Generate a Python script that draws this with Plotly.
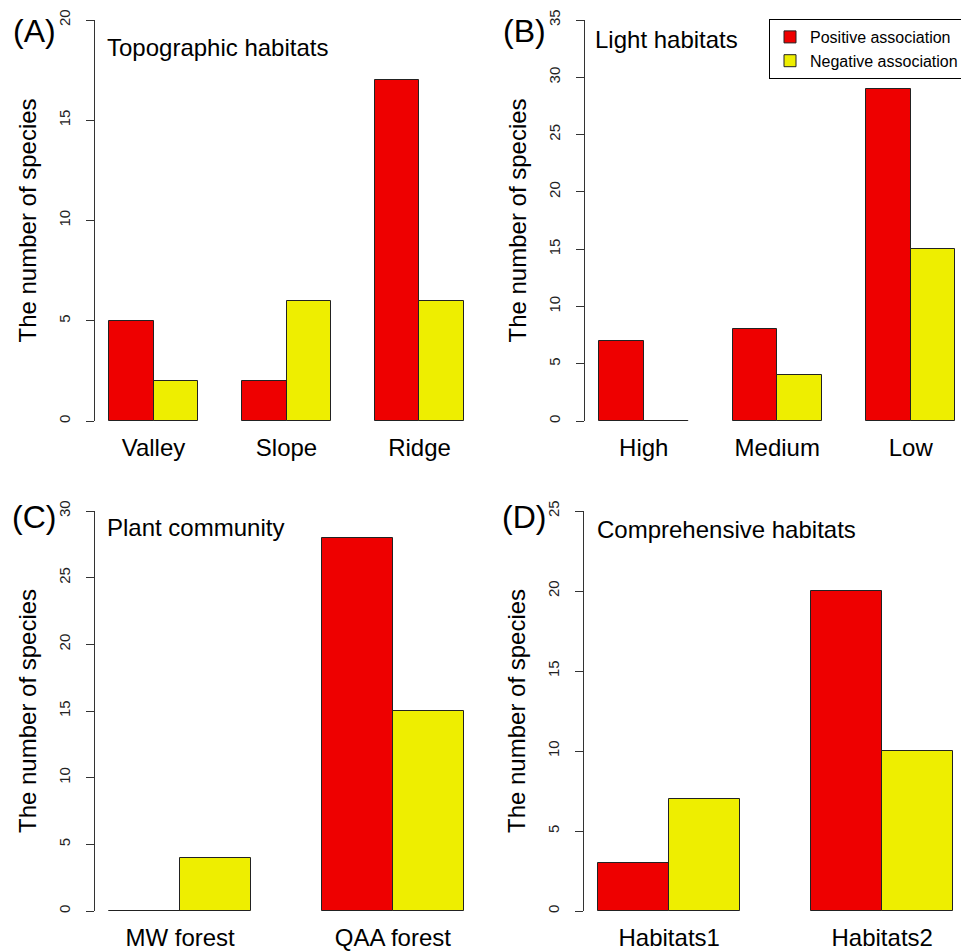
import plotly.graph_objects as go

# ---------------- data ----------------
cats_A = ["Valley", "Slope", "Ridge"]
pos_A = [5, 2, 17]
neg_A = [2, 6, 6]

cats_B = ["High", "Medium", "Low"]
pos_B = [7, 8, 29]
neg_B = [0, 4, 15]

cats_C = ["MW forest", "QAA forest"]
pos_C = [0, 28]
neg_C = [4, 15]

cats_D = ["Habitats1", "Habitats2"]
pos_D = [3, 20]
neg_D = [7, 10]

ymax = {"A": 20, "B": 35, "C": 30, "D": 25}
subtitles = {"A": "Topographic habitats", "B": "Light habitats",
             "C": "Plant community", "D": "Comprehensive habitats"}
series_names = ["Positive association", "Negative association"]
series_colors = ["#EE0000", "#EEEE00"]

W, H = 961, 951
FONT = "Liberation Sans, Arial, sans-serif"
BORDER = "#222222"

# panel layout in pixels: (axis x left, plot right, top, bottom, x-range)
panels = {
    "A": dict(cats=cats_A, vals=[pos_A, neg_A], px=(95, 478), py=(20, 421), xr=(0.68, 9.32)),
    "B": dict(cats=cats_B, vals=[pos_B, neg_B], px=(585, 961), py=(20, 421), xr=(0.68, 9.13)),
    "C": dict(cats=cats_C, vals=[pos_C, neg_C], px=(95, 478), py=(511, 911), xr=(0.8, 6.2)),
    "D": dict(cats=cats_D, vals=[pos_D, neg_D], px=(584, 961), py=(511, 911), xr=(0.8, 6.11)),
}

fig = go.Figure()
layout = {}
annotations = []

label_pos = {"A": (34, 31), "B": (524, 31), "C": (34, 517), "D": (524, 517)}
sub_pos = {"A": (105, 47), "B": (593, 40), "C": (105, 527), "D": (595, 529)}

for i, (key, p) in enumerate(panels.items()):
    n = i + 1
    xa = "x" if n == 1 else f"x{n}"
    ya = "y" if n == 1 else f"y{n}"
    ncat = len(p["cats"])
    # R barplot(beside=TRUE) positions: space 1 before each group, bar width 1
    for j, (vals, name, col) in enumerate(zip(p["vals"], series_names, series_colors)):
        centers = [1 + g * 3 + j + 0.5 for g in range(ncat)]
        fig.add_trace(go.Bar(
            x=centers, y=vals, width=1, name=name,
            marker=dict(color=col, line=dict(color=BORDER, width=1)),
            showlegend=(key == "A"), xaxis=xa, yaxis=ya, legendrank=j + 1,
        ))
        # zero-height bars are drawn by R as a flat outline
        zx, zy = [], []
        for c, v in zip(centers, vals):
            if v == 0:
                zx += [c - 0.5, c + 0.5, None]
                zy += [0, 0, None]
        if zx:
            fig.add_trace(go.Scatter(
                x=zx, y=zy, mode="lines", line=dict(color=BORDER, width=1.5),
                showlegend=False, xaxis=xa, yaxis=ya, cliponaxis=False,
                hoverinfo="skip"))
    gcenters = [2 + g * 3 for g in range(ncat)]
    x0, x1 = p["px"]
    t, b = p["py"]
    layout["xaxis" if n == 1 else f"xaxis{n}"] = dict(
        domain=[x0 / W, x1 / W], range=list(p["xr"]), anchor=ya,
        tickvals=gcenters, ticktext=p["cats"], ticks="", showline=False,
        showgrid=False, zeroline=False, ticklabelstandoff=10, automargin=False,
        tickfont=dict(family=FONT, size=24, color="black"), fixedrange=True,
    )
    layout["yaxis" if n == 1 else f"yaxis{n}"] = dict(
        domain=[1 - b / H, 1 - t / H], range=[0, ymax[key]], anchor=xa,
        dtick=5, tick0=0, ticks="outside", ticklen=8, tickcolor="#333333",
        showline=True, linecolor="#333333", linewidth=1, showgrid=False,
        zeroline=False, tickangle=-90, ticklabelstandoff=10, automargin=False,
        tickfont=dict(family=FONT, size=15, color="#222222"), fixedrange=True,
    )
    # y title
    annotations.append(dict(
        text="The number of species", x=(x0 - 68) / W, y=1 - (t + b) / 2 / H,
        xref="paper", yref="paper", showarrow=False, textangle=-90,
        xanchor="center", yanchor="middle",
        font=dict(family=FONT, size=24, color="black")))
    lx, ly = label_pos[key]
    annotations.append(dict(
        text=f"({key})", x=lx / W, y=1 - ly / H, xref="paper", yref="paper",
        showarrow=False, xanchor="center", yanchor="middle",
        font=dict(family=FONT, size=32, color="black")))
    sx, sy = sub_pos[key]
    annotations.append(dict(
        text=subtitles[key], x=sx / W, y=1 - sy / H, xref="paper", yref="paper",
        showarrow=False, xanchor="left", yanchor="middle",
        font=dict(family=FONT, size=24, color="black")))

fig.update_layout(
    width=W, height=H, margin=dict(l=0, r=0, t=0, b=0, autoexpand=False),
    paper_bgcolor="white", plot_bgcolor="white",
    barmode="overlay", bargap=0,
    annotations=annotations,
    legend=dict(x=769 / W, y=1 - 19 / H, xanchor="left", yanchor="top",
                bordercolor="black", borderwidth=1, bgcolor="white",
                font=dict(family=FONT, size=16, color="black"),
                traceorder="normal"),
    **layout,
)

fig.write_html(
    "out.html",
    config={"displayModeBar": False},
    post_script="document.body.style.margin='0';document.body.style.overflow='hidden';",
)
